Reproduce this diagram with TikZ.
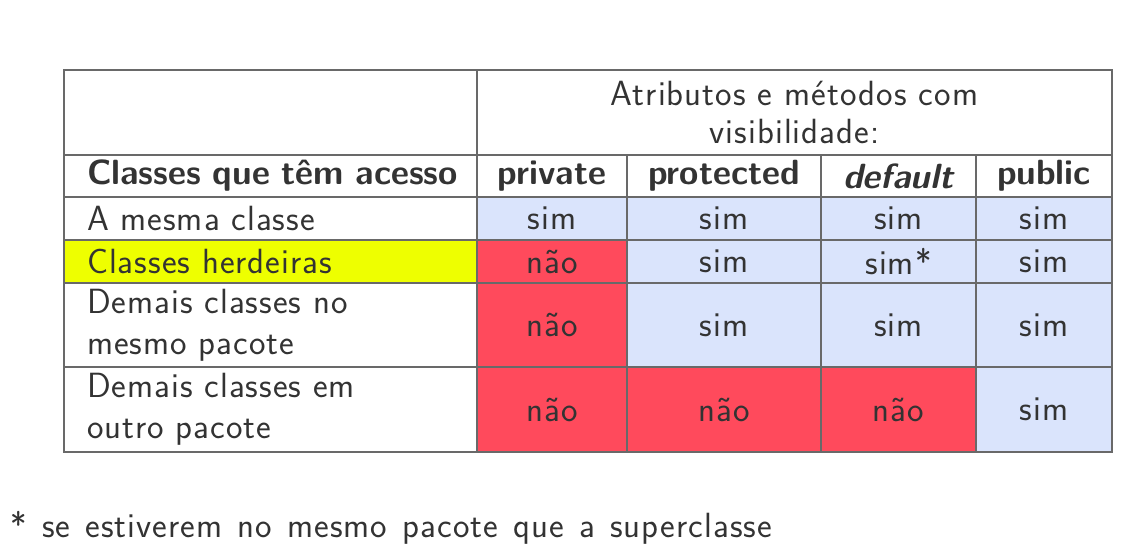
\documentclass[tikz,border=0pt]{standalone}
\usepackage{fontspec}
\usepackage{tikz}
\usetikzlibrary{positioning}
\newfontfamily\tabsans{Latin Modern Sans}[LetterSpace=3]

\definecolor{simblue}{RGB}{218,228,252}
\definecolor{naored}{RGB}{255,74,92}
\definecolor{hlyellow}{RGB}{238,255,0}
\definecolor{gridgray}{RGB}{105,105,105}
\definecolor{textgray}{RGB}{51,51,51}

\begin{document}
\begin{tikzpicture}[x=0.5pt,y=-0.5pt,node distance=0pt,
    cell/.style={draw=gridgray,line width=0.8pt,inner sep=0pt,outer sep=0pt,
      text=textgray,align=center,font=\tabsans\fontsize{17.5}{20.5}\selectfont},
    boldhead/.style={font=\sffamily\bfseries\fontsize{17.5}{20.5}\selectfont},
    first/.style={minimum width=206.5pt,text width=183.5pt,inner xsep=11.5pt,align=left},
    wpriv/.style={minimum width=75pt},
    wprot/.style={minimum width=97pt},
    wdef/.style={minimum width=77.5pt},
    wpub/.style={minimum width=68pt},
    hdr/.style={minimum width=317.5pt,minimum height=42.5pt,
      font=\tabsans\fontsize{17.5}{19}\selectfont},
    rtall/.style={minimum height=42.5pt},
    rlow/.style={minimum height=21.5pt},
    sim/.style={fill=simblue},
    nao/.style={fill=naored},
    marked/.style={fill=hlyellow}]
  \useasboundingbox (0,0) rectangle (1133,551);
  % cabecalho
  \node[cell,first,rtall,anchor=north west] (c00) at (64,70) {};
  \node[cell,hdr] (c01) [right=of c00] {Atributos e métodos com\\visibilidade:};
  \node[cell,boldhead,first,minimum height=21pt] (c10) [below=of c00] {\makebox[183.5pt][l]{Classes que têm acesso}};
  \node[cell,boldhead,wpriv,minimum height=21pt] (c11) [right=of c10] {private};
  \node[cell,boldhead,wprot,minimum height=21pt] (c12) [right=of c11] {protected};
  \node[cell,boldhead,wdef,minimum height=21pt] (c13) [right=of c12] {\itshape default};
  \node[cell,boldhead,wpub,minimum height=21pt] (c14) [right=of c13] {public};
  % a mesma classe
  \node[cell,first,rlow] (c20) [below=of c10] {A mesma classe};
  \node[cell,wpriv,rlow,sim] (c21) [right=of c20] {sim};
  \node[cell,wprot,rlow,sim] (c22) [right=of c21] {sim};
  \node[cell,wdef,rlow,sim] (c23) [right=of c22] {sim};
  \node[cell,wpub,rlow,sim] (c24) [right=of c23] {sim};
  % herdeiras
  \node[cell,first,rlow,marked] (c30) [below=of c20] {Classes herdeiras};
  \node[cell,wpriv,rlow,nao] (c31) [right=of c30] {não};
  \node[cell,wprot,rlow,sim] (c32) [right=of c31] {sim};
  \node[cell,wdef,rlow,sim] (c33) [right=of c32] {sim*};
  \node[cell,wpub,rlow,sim] (c34) [right=of c33] {sim};
  % mesmo pacote
  \node[cell,first,minimum height=42pt] (c40) [below=of c30] {Demais classes no\\mesmo pacote};
  \node[cell,wpriv,minimum height=42pt,nao] (c41) [right=of c40] {não};
  \node[cell,wprot,minimum height=42pt,sim] (c42) [right=of c41] {sim};
  \node[cell,wdef,minimum height=42pt,sim] (c43) [right=of c42] {sim};
  \node[cell,wpub,minimum height=42pt,sim] (c44) [right=of c43] {sim};
  % outro pacote
  \node[cell,first,rtall] (c50) [below=of c40] {Demais classes em\\outro pacote};
  \node[cell,wpriv,rtall,nao] (c51) [right=of c50] {não};
  \node[cell,wprot,rtall,nao] (c52) [right=of c51] {não};
  \node[cell,wdef,rtall,nao] (c53) [right=of c52] {não};
  \node[cell,wpub,rtall,sim] (c54) [right=of c53] {sim};
  % nota
  \node[anchor=base west,inner sep=0pt,text=textgray,font=\tabsans\fontsize{17.5}{20.5}\selectfont]
    (nota) at (10,537) {\spaceskip=7.6pt plus 2pt minus 1pt\relax * se estiverem no mesmo pacote que a superclasse};
\end{tikzpicture}
\end{document}
